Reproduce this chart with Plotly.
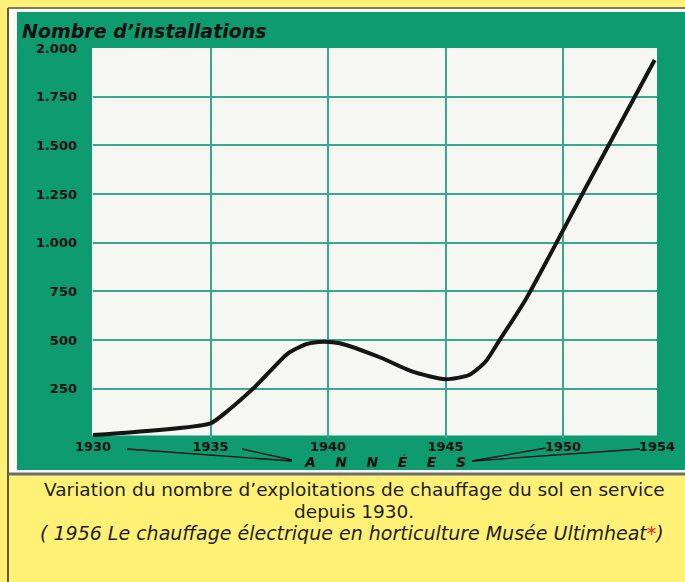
import plotly.graph_objects as go

# ---- data ----
years = [1930, 1935, 1935.6, 1936.9, 1938.3, 1939.1, 1939.8, 1940.5, 1942.2,
         1943.6, 1945.0, 1946.0, 1946.7, 1947.3, 1948.4, 1951.0, 1953.9]
installations = [13, 73, 124, 261, 432, 480, 492, 484, 412,
                 338, 299, 321, 389, 500, 706, 1290, 1938]

x_tickvals = [1930, 1935, 1940, 1945, 1950, 1954]
x_ticktext = ["1930", "1935", "1940", "1945", "1950", "1954"]
y_tickvals = [0, 250, 500, 750, 1000, 1250, 1500, 1750, 2000]
y_ticktext = ["", "250", "500", "750", "1.000", "1.250", "1.500", "1.750", "2.000"]

y_title = "Nombre d\u2019installations"
x_title = "A\u00a0\u00a0\u00a0\u00a0N\u00a0\u00a0\u00a0\u00a0N\u00a0\u00a0\u00a0\u00a0É\u00a0\u00a0\u00a0\u00a0E\u00a0\u00a0\u00a0\u00a0S"
caption1 = "Variation du nombre d\u2019exploitations de chauffage du sol en service"
caption2 = "depuis 1930."
caption3 = "<i>( 1956 Le chauffage électrique en horticulture Musée Ultimheat<span style='color:#e8281e'>*</span>)</i>"

W, H = 685, 582
YELLOW = "#fff176"
GREEN = "#0e9b70"
GRID = "#3aa88e"
PLOT_WHITE = "#f6f6f2"

# plot area in pixels
PL, PR, PT, PB = 93, 657, 48, 437.5


def px(x):
    return x / W


def py(y):
    return 1 - y / H


fig = go.Figure()
fig.add_trace(go.Scatter(
    x=years, y=installations, mode="lines",
    line=dict(color="#151515", width=4, shape="spline", smoothing=0.6),
    hoverinfo="skip", showlegend=False,
))

shapes = [
    # white inner strip of the picture
    dict(type="rect", xref="paper", yref="paper", x0=px(9), x1=px(685), y0=py(473), y1=py(9),
         fillcolor="#fbfbf6", line=dict(width=0), layer="below"),
    # green card
    dict(type="rect", xref="paper", yref="paper", x0=px(17), x1=px(685), y0=py(470), y1=py(12),
         fillcolor=GREEN, line=dict(width=0), layer="below"),
    # white plotting paper
    dict(type="rect", xref="paper", yref="paper", x0=px(PL - 1), x1=px(PR), y0=py(PB - 2), y1=py(PT),
         fillcolor=PLOT_WHITE, line=dict(width=0), layer="below"),
    # frame lines
    dict(type="line", xref="paper", yref="paper", x0=px(8), x1=px(8), y0=py(582), y1=py(8),
         line=dict(color="#2a2a2a", width=1.5)),
    dict(type="line", xref="paper", yref="paper", x0=px(8), x1=px(685), y0=py(8), y1=py(8),
         line=dict(color="#555555", width=1.5)),
    dict(type="line", xref="paper", yref="paper", x0=px(8), x1=px(685), y0=py(474), y1=py(474),
         line=dict(color="#6e6e6e", width=3)),
    # "ANNÉES" connector strokes
    dict(type="line", xref="paper", yref="paper", x0=px(127), x1=px(292), y0=py(449), y1=py(461),
         line=dict(color="#111", width=1.3)),
    dict(type="line", xref="paper", yref="paper", x0=px(242), x1=px(292), y0=py(449), y1=py(460),
         line=dict(color="#111", width=1.3)),
    dict(type="line", xref="paper", yref="paper", x0=px(472), x1=px(546), y0=py(461), y1=py(448),
         line=dict(color="#111", width=1.3)),
    dict(type="line", xref="paper", yref="paper", x0=px(472), x1=px(640), y0=py(461), y1=py(449),
         line=dict(color="#111", width=1.3)),
]

tickfont = dict(family="DejaVu Sans", size=13, color="#111111", weight="bold")
capfont = dict(family="DejaVu Sans", size=18.5, color="#1e1e1e")

annotations = [
    dict(text=y_title, x=px(20), y=py(31), xref="paper", yref="paper",
         xanchor="left", yanchor="middle", showarrow=False,
         font=dict(family="DejaVu Sans", size=19, color="#111111", weight="bold", style="italic")),
    dict(text=x_title, x=px(385), y=py(462), xref="paper", yref="paper",
         xanchor="center", yanchor="middle", showarrow=False,
         font=dict(family="DejaVu Sans", size=14, color="#111111", weight="bold", style="italic")),
    dict(text=caption1, x=px(354), y=py(489.5), xref="paper", yref="paper",
         xanchor="center", yanchor="middle", showarrow=False, font=capfont),
    dict(text=caption2, x=px(354), y=py(511), xref="paper", yref="paper",
         xanchor="center", yanchor="middle", showarrow=False, font=capfont),
    dict(text=caption3, x=px(352), y=py(532.5), xref="paper", yref="paper",
         xanchor="center", yanchor="middle", showarrow=False,
         font=dict(family="DejaVu Sans", size=19, color="#1e1e1e")),
]

fig.update_layout(
    width=W, height=H,
    autosize=False,
    margin=dict(l=0, r=0, t=0, b=0, pad=0, autoexpand=False),
    paper_bgcolor=YELLOW,
    plot_bgcolor="rgba(0,0,0,0)",
    showlegend=False,
    shapes=shapes,
    annotations=annotations,
    xaxis=dict(
        domain=[px(PL), px(PR)], range=[1930, 1954],
        tickvals=x_tickvals, ticktext=x_ticktext,
        showgrid=True, gridcolor=GRID, gridwidth=2,
        zeroline=False, showline=False, ticks="", automargin=False,
        ticklabelstandoff=-1, tickfont=tickfont, fixedrange=True,
    ),
    yaxis=dict(
        domain=[py(PB), py(PT)], range=[0, 2000],
        tickvals=y_tickvals, ticktext=y_ticktext,
        showgrid=True, gridcolor=GRID, gridwidth=2,
        zeroline=False, showline=False, ticks="", automargin=False,
        ticklabelstandoff=15, tickfont=tickfont, fixedrange=True,
    ),
)

fig.write_html(
    "out.html",
    config={"displayModeBar": False},
    post_script="document.body.style.margin='0';document.body.style.overflow='hidden';",
)
